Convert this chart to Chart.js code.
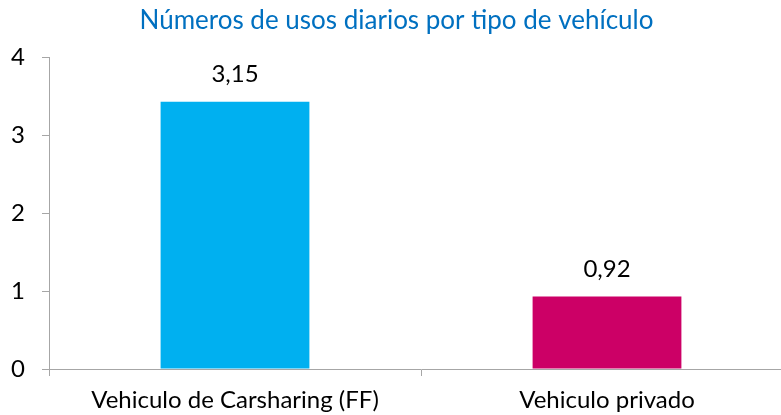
<!DOCTYPE html>
<html>
<head>
<meta charset="utf-8">
<script src="https://cdn.jsdelivr.net/npm/chart.js@4/dist/chart.umd.min.js"></script>
<style>
  html, body { margin: 0; padding: 0; background: #fff; overflow: hidden; }
  #wrap { width: 800px; height: 415px; }
</style>
</head>
<body>
<div id="wrap"><canvas id="c" width="800" height="415"></canvas></div>
<script>
// Daily uses per vehicle type — two bars with printed value labels.
const categories = ["Vehiculo de Carsharing (FF)", "Vehiculo privado"];
const values = [3.43, 0.93];
const valueLabels = ["3,15", "0,92"];
const barColors = ["#00B0F0", "#CC0066"];
const yTicks = [0, 1, 2, 3, 4];

const FONT = "Lato, 'Open Sans', sans-serif";
const AXIS = "#A6A6A6";

// draws the value text above each bar
const valueLabelPlugin = {
  id: "valueLabels",
  afterDatasetsDraw(chart) {
    const ctx = chart.ctx;
    const meta = chart.getDatasetMeta(0);
    ctx.save();
    ctx.font = `24px ${FONT}`;
    ctx.fillStyle = "#000";
    ctx.textAlign = "center";
    ctx.textBaseline = "middle";
    meta.data.forEach((bar, i) => {
      ctx.fillText(valueLabels[i], bar.x, bar.y - 27);
    });
    ctx.restore();
  },
};

new Chart(document.getElementById("c"), {
  type: "bar",
  data: {
    labels: categories,
    datasets: [{
      data: values,
      backgroundColor: barColors,
      borderWidth: 0,
      categoryPercentage: 0.4,
      barPercentage: 1,
    }],
  },
  options: {
    responsive: false,
    animation: false,
    layout: { padding: { top: 0, right: 7, left: 0, bottom: 0 } },
    plugins: {
      legend: { display: false },
      tooltip: { enabled: false },
      title: {
        display: true,
        text: "Números de usos diarios por tipo de vehículo",
        color: "#0070C0",
        font: { family: FONT, size: 26, weight: "normal" },
        padding: { top: 5, bottom: 21 },
      },
    },
    scales: {
      x: {
        grid: { drawOnChartArea: false, drawTicks: true, tickLength: 7, color: AXIS, offset: true },
        border: { display: true, color: AXIS, width: 1 },
        ticks: { color: "#000", font: { family: FONT, size: 24 }, padding: 10, maxRotation: 0 },
        afterFit(scale) { scale.height = 46; },
      },
      y: {
        min: 0,
        max: 4,
        afterBuildTicks(scale) { scale.ticks = yTicks.map((v) => ({ value: v })); },
        grid: { drawOnChartArea: false, drawTicks: true, tickLength: 7, color: AXIS },
        border: { display: true, color: AXIS, width: 1 },
        ticks: { color: "#000", font: { family: FONT, size: 24 }, padding: 17 },
        afterFit(scale) { scale.width = 49; },
      },
    },
  },
  plugins: [valueLabelPlugin],
});
</script>
</body>
</html>
